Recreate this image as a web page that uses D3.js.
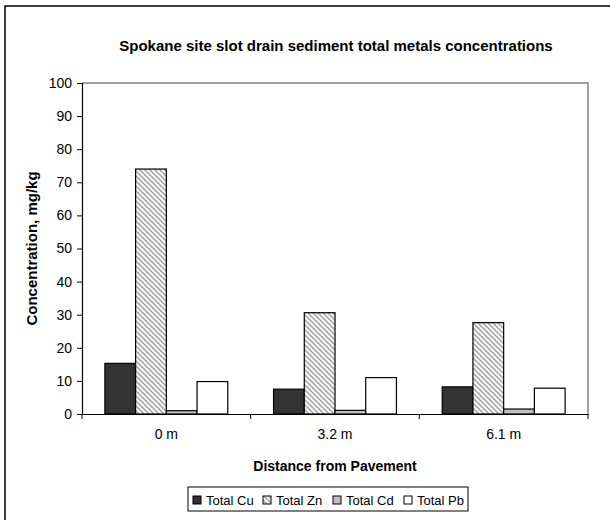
<!DOCTYPE html>
<html>
<head>
<meta charset="utf-8">
<script src="https://cdn.jsdelivr.net/npm/d3@7"></script>
<style>
  body { margin: 0; background: #fff; }
  svg text { font-family: "Liberation Sans", Arial, sans-serif; }
</style>
</head>
<body>
<div id="chart"></div>
<script>
// chart values
const categories = ["0 m", "3.2 m", "6.1 m"];
const seriesNames = ["Total Cu", "Total Zn", "Total Cd", "Total Pb"];
const cu = [15.3, 7.5, 8.2];
const zn = [74.0, 30.6, 27.6];
const cd = [1.0, 1.1, 1.5];
const pb = [9.8, 11.0, 7.8];
const yTicks = [0, 10, 20, 30, 40, 50, 60, 70, 80, 90, 100];

const seriesValues = [cu, zn, cd, pb];
const fills = ["#333333", "url(#hatch)", "#c0c0c0", "#ffffff"];

const width = 610, height = 520;
const svg = d3.select("#chart")
  .append("svg")
  .attr("width", width)
  .attr("height", height);

// hatch pattern for Zn
const defs = svg.append("defs");
const pat = defs.append("pattern")
  .attr("id", "hatch")
  .attr("patternUnits", "userSpaceOnUse")
  .attr("width", 5)
  .attr("height", 5);
pat.append("rect").attr("width", 5).attr("height", 5).attr("fill", "#fff");
pat.append("path")
  .attr("d", "M-1,-1 L6,6 M-3,2 L3,8 M2,-3 L8,3")
  .attr("stroke", "#a8a8a8")
  .attr("stroke-width", 1.6);

// outer chart frame (only left and top visible)
svg.append("path")
  .attr("d", "M5,520 V6 H610")
  .attr("fill", "none")
  .attr("stroke", "#000")
  .attr("stroke-width", 1.5);

const plot = { left: 82, right: 588, top: 83, bottom: 414 };

const x0 = d3.scaleBand()
  .domain(categories)
  .range([plot.left, plot.right])
  .paddingInner(0)
  .paddingOuter(0);

const x1 = d3.scaleBand()
  .domain(seriesNames)
  .range([0, x0.bandwidth()])
  .paddingOuter(0.745)
  .paddingInner(0);

const y = d3.scaleLinear()
  .domain([0, 100])
  .range([plot.bottom, plot.top]);

// plot area top and right border
svg.append("path")
  .attr("d", `M${plot.left},${plot.top} H${plot.right} V${plot.bottom}`)
  .attr("fill", "none")
  .attr("stroke", "#808080")
  .attr("stroke-width", 1.5);

// bars
const rows = [];
categories.forEach((c, i) => {
  seriesNames.forEach((s, j) => {
    rows.push({ cat: c, series: s, value: seriesValues[j][i], fill: fills[j] });
  });
});

svg.append("g")
  .selectAll("rect")
  .data(rows)
  .enter()
  .append("rect")
  .attr("x", d => x0(d.cat) + x1(d.series))
  .attr("y", d => y(d.value))
  .attr("width", x1.bandwidth())
  .attr("height", d => y(0) - y(d.value))
  .attr("fill", d => d.fill)
  .attr("stroke", "#000")
  .attr("stroke-width", 1.2);

// Y axis
const yAxis = svg.append("g")
  .attr("transform", `translate(${plot.left},0)`)
  .call(d3.axisLeft(y).tickValues(yTicks).tickSize(5).tickPadding(5));
yAxis.select(".domain").attr("stroke", "#000").attr("stroke-width", 1.2);
yAxis.selectAll("text").style("font-size", "14px").attr("fill", "#000");

// X axis, ticks between categories
const xAxis = svg.append("g")
  .attr("transform", `translate(0,${plot.bottom})`)
  .call(d3.axisBottom(x0).tickSize(0).tickPadding(15));
xAxis.select(".domain").attr("stroke", "#000").attr("stroke-width", 1.2);
xAxis.selectAll("text").style("font-size", "14px").attr("fill", "#000");
const bounds = categories.map(c => x0(c)).concat([x0(categories[categories.length - 1]) + x0.bandwidth()]);
xAxis.selectAll(".sep")
  .data(bounds)
  .enter()
  .append("line")
  .attr("x1", d => d).attr("x2", d => d)
  .attr("y1", 0).attr("y2", 5)
  .attr("stroke", "#000");

// title
svg.append("text")
  .attr("x", 336)
  .attr("y", 51)
  .attr("text-anchor", "middle")
  .style("font-size", "15px")
  .style("font-weight", "bold")
  .text("Spokane site slot drain sediment total metals concentrations");

// axis titles
svg.append("text")
  .attr("transform", `translate(37,${(plot.top + plot.bottom) / 2}) rotate(-90)`)
  .attr("text-anchor", "middle")
  .style("font-size", "15px")
  .style("font-weight", "bold")
  .text("Concentration, mg/kg");

svg.append("text")
  .attr("x", (plot.left + plot.right) / 2)
  .attr("y", 471)
  .attr("text-anchor", "middle")
  .style("font-size", "14px")
  .style("font-weight", "bold")
  .text("Distance from Pavement");

// legend
const legend = svg.append("g");
legend.append("rect")
  .attr("x", 188).attr("y", 487)
  .attr("width", 280).attr("height", 24)
  .attr("fill", "#fff")
  .attr("stroke", "#000")
  .attr("stroke-width", 1);

const legendX = [193, 263, 333, 404];
seriesNames.forEach((s, j) => {
  const g = legend.append("g").attr("transform", `translate(${legendX[j]},0)`);
  g.append("rect")
    .attr("x", 0).attr("y", 496)
    .attr("width", 8).attr("height", 8)
    .attr("fill", fills[j])
    .attr("stroke", "#000")
    .attr("stroke-width", 1);
  g.append("text")
    .attr("x", 13).attr("y", 504.5)
    .style("font-size", "13px")
    .text(s);
});
</script>
</body>
</html>
